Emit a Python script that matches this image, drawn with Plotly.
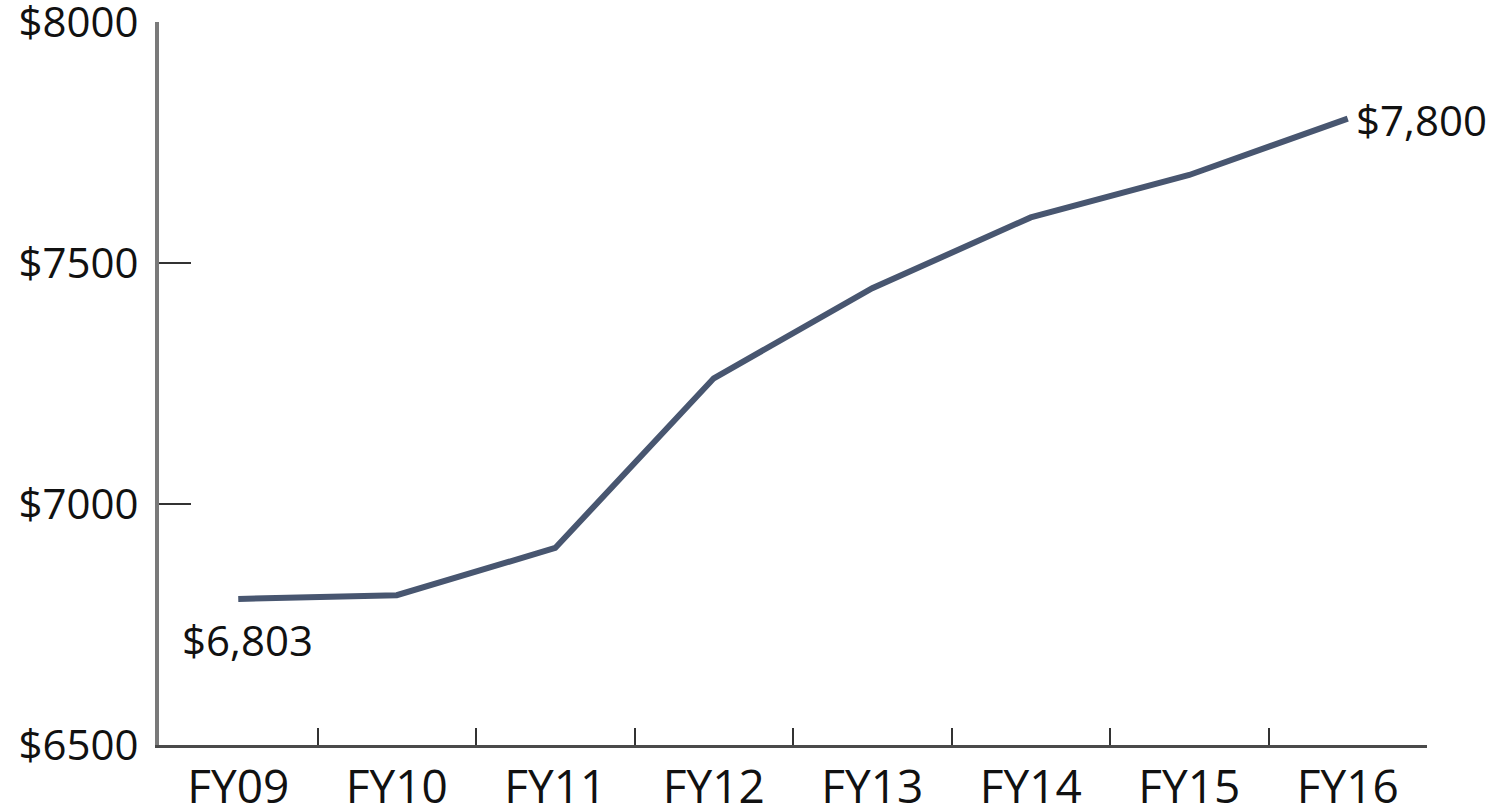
import plotly.graph_objects as go

years = ["FY09", "FY10", "FY11", "FY12", "FY13", "FY14", "FY15", "FY16"]
values = [6803, 6811, 6909, 7261, 7448, 7595, 7683, 7800]
y_ticks = [6500, 7000, 7500, 8000]

FONT = "Open Sans"
LINE_COLOR = "#485670"

fig = go.Figure()
fig.add_trace(go.Scatter(
    x=years, y=values, mode="lines",
    line=dict(color=LINE_COLOR, width=6),
    hoverinfo="skip", showlegend=False,
))

fig.add_annotation(x=years[0], y=values[0], xref="x", yref="y",
                   text=f"${values[0]:,}", showarrow=False,
                   xanchor="center", yanchor="top", xshift=9, yshift=-10,
                   font=dict(family=FONT, size=42, color="#111"))
fig.add_annotation(x=years[-1], y=values[-1], xref="x", yref="y",
                   text=f"${values[-1]:,}", showarrow=False,
                   xanchor="left", yanchor="middle", xshift=6, yshift=-1,
                   font=dict(family=FONT, size=42, color="#111"))

fig.update_layout(
    width=1503, height=807,
    margin=dict(l=159, r=76, t=22, b=62, autoexpand=False),
    paper_bgcolor="white", plot_bgcolor="white",
    font=dict(family=FONT, size=42, color="#111"),
    showlegend=False,
)
fig.update_xaxes(
    type="category", categoryorder="array", categoryarray=years,
    range=[-0.5, len(years) - 0.5],
    automargin=False,
    showgrid=False, zeroline=False,
    showline=True, linecolor="#4a4a4a", linewidth=3,
    ticks="inside", tickson="boundaries", ticklen=17, tickwidth=2, tickcolor="#333",
    tickfont=dict(family=FONT, size=46, color="#111"),
    ticklabelstandoff=0, ticklabeloverflow="allow",
    fixedrange=True,
)
fig.update_yaxes(
    range=[y_ticks[0], y_ticks[-1] + 0.5],
    tickvals=y_ticks, ticktext=[f"${v}" for v in y_ticks],
    automargin=False,
    showgrid=False, zeroline=False,
    showline=True, linecolor="#7a7a7a", linewidth=4,
    ticks="inside", ticklen=32, tickwidth=2, tickcolor="#333",
    ticklabelstandoff=8, ticklabeloverflow="allow",
    tickfont=dict(family=FONT, size=42, color="#111"),
    fixedrange=True,
)

fig.write_html(
    "out.html",
    config={"displayModeBar": False},
    post_script="document.body.style.margin='0';document.body.style.overflow='hidden';",
)
